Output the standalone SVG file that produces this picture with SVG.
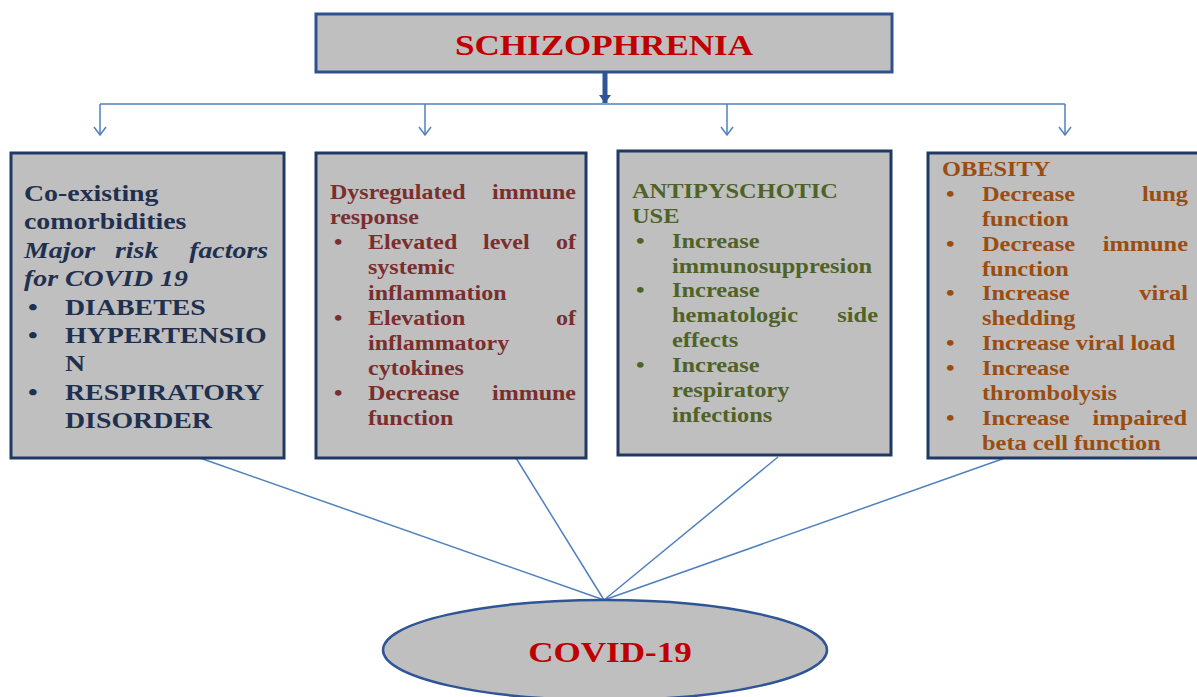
<svg xmlns="http://www.w3.org/2000/svg" width="1197" height="697" viewBox="0 0 1197 697">
<style>
.box{fill:#bfbfbf;stroke:#1f3864;stroke-width:3}
.tb{font-family:"Liberation Serif","Times New Roman",serif;font-weight:bold}
.t1{font-size:24px;fill:#1f3050}
.t2{font-size:20px;fill:#7b2e2e}
.t3{font-size:20px;fill:#4f6228}
.t4{font-size:20px;fill:#9a4d12}
.it{font-style:italic}
.e{text-anchor:end}
.red{fill:#c00000;font-size:30px;text-anchor:middle}
.con{stroke:#4f81bd;stroke-width:1.5;fill:none}
</style>
<defs>
<marker id="open" markerUnits="userSpaceOnUse" markerWidth="10" markerHeight="14" refX="9" refY="7" orient="auto" viewBox="0 0 10 14">
<path d="M1,1 L9,7 L1,13" fill="none" stroke="#4f81bd" stroke-width="1.5"/>
</marker>
<marker id="solid" markerUnits="userSpaceOnUse" markerWidth="8" markerHeight="12" refX="8" refY="6" orient="auto" viewBox="0 0 8 12">
<path d="M0,0 L8,6 L0,12 Z" fill="#2f5597"/>
</marker>
</defs>

<g id="connectors">
<line x1="605" y1="73" x2="605" y2="103" stroke="#2f5597" stroke-width="5" marker-end="url(#solid)"/>
<line class="con" x1="100" y1="104" x2="1065" y2="104"/>
<line class="con" x1="100" y1="104" x2="100" y2="135" marker-end="url(#open)"/>
<line class="con" x1="425" y1="104" x2="425" y2="135" marker-end="url(#open)"/>
<line class="con" x1="727" y1="104" x2="727" y2="135" marker-end="url(#open)"/>
<line class="con" x1="1065" y1="104" x2="1065" y2="135" marker-end="url(#open)"/>
<line class="con" x1="200" y1="458" x2="604" y2="600"/>
<line class="con" x1="516" y1="458" x2="604" y2="600"/>
<line class="con" x1="778" y1="457" x2="604" y2="600"/>
<line class="con" x1="1005" y1="458" x2="604" y2="600"/>
</g>

<g id="schizophrenia">
<rect x="316" y="14" width="576" height="58" fill="#bfbfbf" stroke="#2f528f" stroke-width="3"/>
<text class="tb red" transform="translate(604,55) scale(1.17,1)">SCHIZOPHRENIA</text>
</g>

<g id="comorbidities">
<rect class="box" x="11" y="153" width="273" height="305"/>
<g class="tb t1">
<text transform="translate(24,201) scale(1.16,1)">Co-existing</text>
<text transform="translate(24,229) scale(1.16,1)">comorbidities</text>
<text class="it" transform="translate(24,258) scale(1.16,1)">Major</text>
<text class="it" transform="translate(115,258) scale(1.16,1)">risk</text>
<text class="it e" transform="translate(268,258) scale(1.16,1)">factors</text>
<text class="it" transform="translate(24,286) scale(1.16,1)">for COVID 19</text>
<text transform="translate(28,315) scale(1.16,1)">•</text>
<text transform="translate(65,315) scale(1.16,1)">DIABETES</text>
<text transform="translate(28,343) scale(1.16,1)">•</text>
<text transform="translate(65,343) scale(1.16,1)">HYPERTENSIO</text>
<text transform="translate(65,371) scale(1.16,1)">N</text>
<text transform="translate(28,400) scale(1.16,1)">•</text>
<text transform="translate(65,400) scale(1.16,1)">RESPIRATORY</text>
<text transform="translate(65,428) scale(1.16,1)">DISORDER</text>
</g>
</g>

<g id="immune">
<rect class="box" x="316" y="153" width="270" height="305"/>
<g class="tb t2">
<text transform="translate(330,199) scale(1.2,1)">Dysregulated</text>
<text class="e" transform="translate(576,199) scale(1.2,1)">immune</text>
<text transform="translate(330,224) scale(1.2,1)">response</text>
<text transform="translate(334,249) scale(1.2,1)">•</text>
<text transform="translate(368,249) scale(1.2,1)">Elevated</text>
<text transform="translate(483,249) scale(1.2,1)">level</text>
<text class="e" transform="translate(576,249) scale(1.2,1)">of</text>
<text transform="translate(368,274) scale(1.2,1)">systemic</text>
<text transform="translate(368,300) scale(1.2,1)">inflammation</text>
<text transform="translate(334,325) scale(1.2,1)">•</text>
<text transform="translate(368,325) scale(1.2,1)">Elevation</text>
<text class="e" transform="translate(576,325) scale(1.2,1)">of</text>
<text transform="translate(368,350) scale(1.2,1)">inflammatory</text>
<text transform="translate(368,375) scale(1.2,1)">cytokines</text>
<text transform="translate(334,400) scale(1.2,1)">•</text>
<text transform="translate(368,400) scale(1.2,1)">Decrease</text>
<text class="e" transform="translate(576,400) scale(1.2,1)">immune</text>
<text transform="translate(368,425) scale(1.2,1)">function</text>
</g>
</g>

<g id="antipsychotic">
<rect class="box" x="618" y="151" width="273" height="304"/>
<g class="tb t3">
<text transform="translate(632,198) scale(1.22,1)">ANTIPYSCHOTIC</text>
<text transform="translate(632,223) scale(1.22,1)">USE</text>
<text transform="translate(636,248) scale(1.22,1)">•</text>
<text transform="translate(672,248) scale(1.22,1)">Increase</text>
<text transform="translate(672,273) scale(1.22,1)">immunosuppresion</text>
<text transform="translate(636,297) scale(1.22,1)">•</text>
<text transform="translate(672,297) scale(1.22,1)">Increase</text>
<text transform="translate(672,322) scale(1.22,1)">hematologic</text>
<text class="e" transform="translate(878,322) scale(1.22,1)">side</text>
<text transform="translate(672,347) scale(1.22,1)">effects</text>
<text transform="translate(636,372) scale(1.22,1)">•</text>
<text transform="translate(672,372) scale(1.22,1)">Increase</text>
<text transform="translate(672,397) scale(1.22,1)">respiratory</text>
<text transform="translate(672,422) scale(1.22,1)">infections</text>
</g>
</g>

<g id="obesity">
<rect class="box" x="928" y="153" width="275" height="305"/>
<g class="tb t4">
<text transform="translate(942,176) scale(1.22,1)">OBESITY</text>
<text transform="translate(946,201) scale(1.22,1)">•</text>
<text transform="translate(982,201) scale(1.22,1)">Decrease</text>
<text class="e" transform="translate(1188,201) scale(1.22,1)">lung</text>
<text transform="translate(982,226) scale(1.22,1)">function</text>
<text transform="translate(946,251) scale(1.22,1)">•</text>
<text transform="translate(982,251) scale(1.22,1)">Decrease</text>
<text class="e" transform="translate(1188,251) scale(1.22,1)">immune</text>
<text transform="translate(982,276) scale(1.22,1)">function</text>
<text transform="translate(946,300) scale(1.22,1)">•</text>
<text transform="translate(982,300) scale(1.22,1)">Increase</text>
<text class="e" transform="translate(1188,300) scale(1.22,1)">viral</text>
<text transform="translate(982,325) scale(1.22,1)">shedding</text>
<text transform="translate(946,350) scale(1.22,1)">•</text>
<text transform="translate(982,350) scale(1.22,1)">Increase viral load</text>
<text transform="translate(946,375) scale(1.22,1)">•</text>
<text transform="translate(982,375) scale(1.22,1)">Increase</text>
<text transform="translate(982,400) scale(1.22,1)">thrombolysis</text>
<text transform="translate(946,425) scale(1.22,1)">•</text>
<text transform="translate(982,425) scale(1.22,1)">Increase</text>
<text class="e" transform="translate(1187,425) scale(1.22,1)">impaired</text>
<text transform="translate(982,450) scale(1.22,1)">beta cell function</text>
</g>
</g>

<g id="covid">
<ellipse cx="605" cy="650" rx="222" ry="50" fill="#bfbfbf" stroke="#2f5597" stroke-width="2.5"/>
<text class="tb red" transform="translate(610,662) scale(1.17,1)">COVID-19</text>
</g>
</svg>
